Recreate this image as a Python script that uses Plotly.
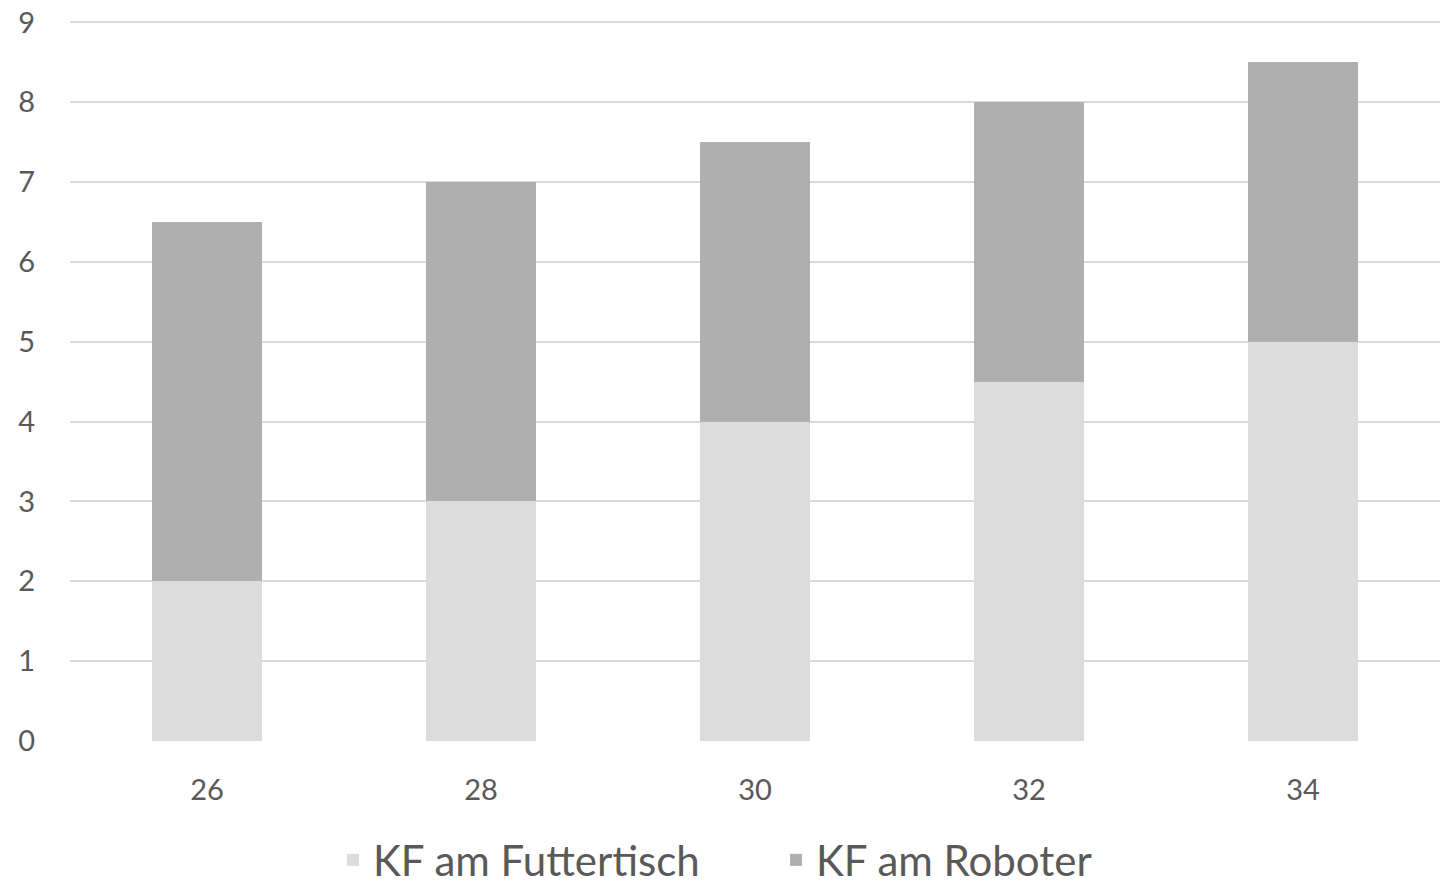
import plotly.graph_objects as go

categories = ["26", "28", "30", "32", "34"]
futtertisch = [2, 3, 4, 4.5, 5]
roboter = [4.5, 4, 3.5, 3.5, 3.5]
series_names = ["KF am Futtertisch", "KF am Roboter"]
y_ticks = list(range(0, 10))

FONT = "Lato, Carlito, Calibri, sans-serif"
TXT = "#595959"

fig = go.Figure()
fig.add_trace(go.Bar(x=categories, y=futtertisch, name=series_names[0],
                     marker=dict(color="#DCDCDC", line=dict(width=0))))
fig.add_trace(go.Bar(x=categories, y=roboter, name=series_names[1],
                     marker=dict(color="#AFAFAF", line=dict(width=0))))

fig.update_layout(
    width=1440, height=891,
    barmode="stack", bargap=0.6,
    plot_bgcolor="white", paper_bgcolor="white",
    margin=dict(l=70, r=0, t=20, b=150, autoexpand=False),
    font=dict(family=FONT, color=TXT),
    legend=dict(orientation="h", x=0.192, xanchor="left", y=-0.118, yanchor="top",
                font=dict(size=42, color=TXT), traceorder="normal",
                itemwidth=30, entrywidth=398, entrywidthmode="pixels"),
    xaxis=dict(type="category", showgrid=False, showline=False, zeroline=False,
               automargin=False,
               tickfont=dict(size=29, color=TXT), ticks="", ticklabelstandoff=29),
    yaxis=dict(range=[0, 9.03], tickvals=y_ticks, showgrid=True, gridcolor="#D9D9D9",
               gridwidth=2, zeroline=False, showline=False, ticks="",
               automargin=False,
               tickfont=dict(size=29, color=TXT), ticklabelstandoff=34),
)

fig.write_html("out.html", config={"displayModeBar": False},
               post_script="document.body.style.margin='0';")
